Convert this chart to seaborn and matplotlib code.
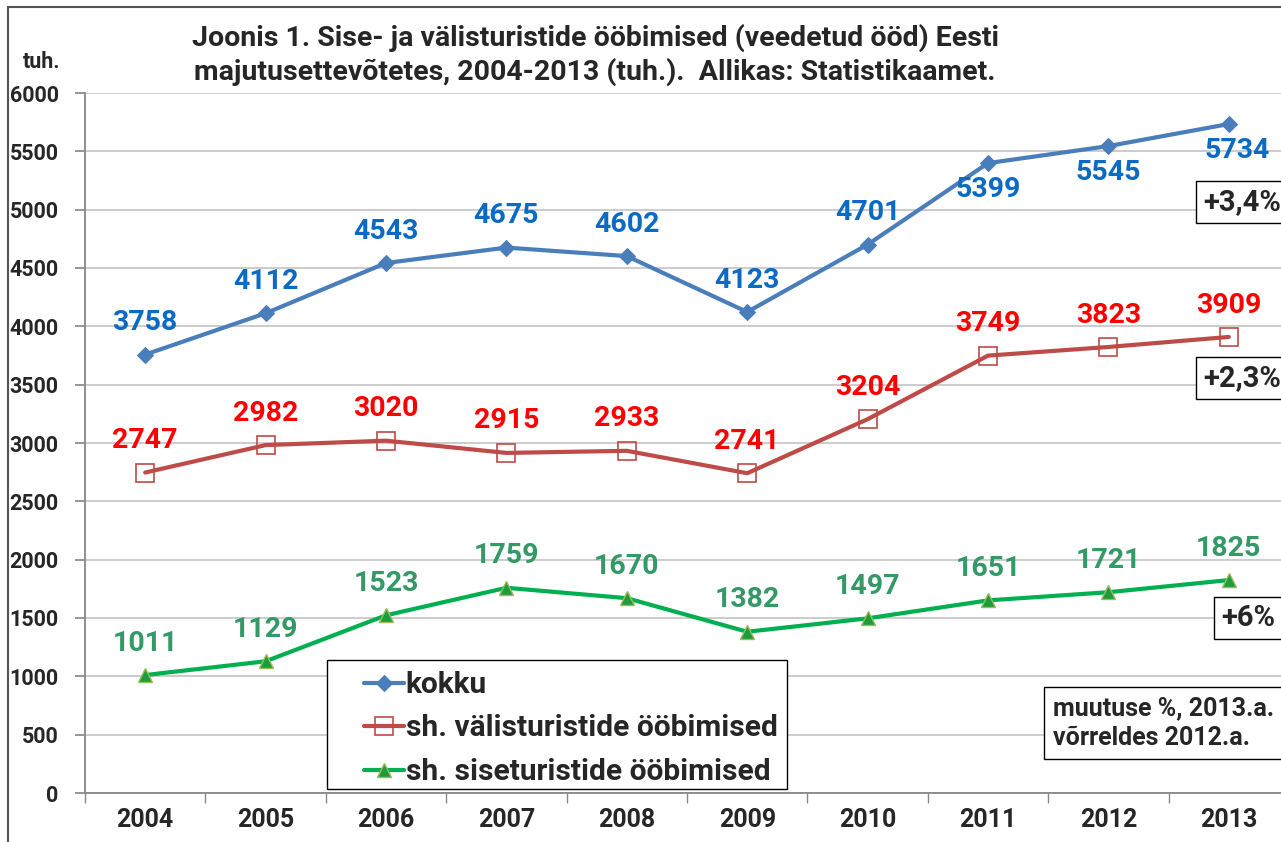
import matplotlib
matplotlib.use("Agg")
import matplotlib.pyplot as plt
import seaborn as sns
import pandas as pd
from matplotlib.patches import Rectangle

years = ["2004", "2005", "2006", "2007", "2008", "2009", "2010", "2011", "2012", "2013"]
kokku = [3758, 4112, 4543, 4675, 4602, 4123, 4701, 5399, 5545, 5734]
valis = [2747, 2982, 3020, 2915, 2933, 2741, 3204, 3749, 3823, 3909]
sise = [1011, 1129, 1523, 1759, 1670, 1382, 1497, 1651, 1721, 1825]
series_names = ["kokku", "sh. välisturistide ööbimised", "sh. siseturistide ööbimised"]
changes = ["+3,4%", "+2,3%", "+6%"]
yticks = list(range(0, 6001, 500))

sns.set_theme(style="white")
plt.rcParams['font.family'] = ['Roboto', 'DejaVu Sans']
plt.rcParams['font.weight'] = 'bold'

fig = plt.figure(figsize=(12.81, 8.42), dpi=100)
W, H = 1281, 842
ax = fig.add_axes([85 / W, 1 - 793 / H, (1289 - 85) / W, (793 - 93) / H])
AW, AH = 1289 - 85, 793 - 93

x = list(range(len(years)))
df = pd.DataFrame({"x": x, "kokku": kokku, "valis": valis, "sise": sise})

line_specs = [
    ("kokku", "#4A7EBB", dict(marker="D", markersize=8, markerfacecolor="#4A7EBB", markeredgecolor="#4A7EBB")),
    ("valis", "#BE4B48", dict(marker="s", markersize=13, markerfacecolor="none", markeredgecolor="#BE4B48", markeredgewidth=1.2)),
    ("sise", "#00B050", dict(marker="^", markersize=10, markerfacecolor="#1E9B3C", markeredgecolor="#9BBB59", markeredgewidth=1.0)),
]
for (col, color, mk), name in zip(line_specs, series_names):
    sns.lineplot(data=df, x="x", y=col, ax=ax, color=color, linewidth=3, label=name, **mk)

label_colors = ["#0B6BC4", "#FF0000", "#339966"]
for vals, lc, key in zip([kokku, valis, sise], label_colors, ["kokku", "valis", "sise"]):
    for i, v in enumerate(vals):
        dy = 23
        dx = 0
        if key == "kokku" and i >= 7:
            dy = -19
            if i == 9:
                dx = 6
        ax.annotate(str(v), (i, v), textcoords="offset points", xytext=(dx, dy),
                    ha="center", va="center", color=lc, fontsize=20.5, fontweight="bold")

ax.set_xlim(-0.5, 9.5)
ax.set_ylim(0, 6000)
ax.set_yticks(yticks)
ax.set_yticklabels([str(t) for t in yticks], fontsize=15.5, fontweight="bold")
ax.set_xticks(x)
ax.set_xticklabels(years, fontsize=18, fontweight="bold")
ax.set_xticks([i - 0.5 for i in range(len(years) + 1)], minor=True)
ax.tick_params(axis="x", which="major", length=0, pad=11)
ax.tick_params(axis="x", which="minor", length=7, color="#888888", direction="out", bottom=True)
ax.tick_params(axis="y", which="major", length=7, color="#888888", direction="out", left=True, pad=12)
ax.grid(axis="y", color="#C8C8C8", linewidth=1.3)
ax.set_axisbelow(True)
for s in ["top", "right"]:
    ax.spines[s].set_visible(False)
for s in ["left", "bottom"]:
    ax.spines[s].set_color("#888888")
    ax.spines[s].set_linewidth(1.3)
ax.set_xlabel("")
ax.set_ylabel("")

# legend frame (drawn separately for the wide left margin)
ax.add_patch(Rectangle(((327 - 85) / AW, (793 - 789) / AH), (787 - 327) / AW, (789 - 660) / AH,
                       transform=ax.transAxes, facecolor="white", edgecolor="black",
                       linewidth=1.0, zorder=4, clip_on=False))
leg = ax.legend(loc="upper left", bbox_to_anchor=((355 - 85) / AW, (793 - 662) / AH),
                borderaxespad=0, frameon=False,
                handlelength=1.35, handletextpad=0.05, borderpad=0.3, labelspacing=0.52,
                prop={"weight": "bold", "size": 21.5})
leg.set_zorder(5)

fig.text(595 / W, 1 - 38 / H, "Joonis 1. Sise- ja välisturistide ööbimised (veedetud ööd) Eesti",
         ha="center", va="center", fontsize=20.5, fontweight="bold")
fig.text(595 / W, 1 - 72 / H, "majutusettevõtetes, 2004-2013 (tuh.).  Allikas: Statistikaamet.",
         ha="center", va="center", fontsize=20.5, fontweight="bold")
fig.text(42 / W, 1 - 62 / H, "tuh.", ha="center", va="center", fontsize=15.5, fontweight="bold")

box = dict(boxstyle="square,pad=0.25", facecolor="white", edgecolor="black", linewidth=1.0)
fig.text(1203 / W, 1 - 202 / H, changes[0], ha="left", va="center", fontsize=21, fontweight="bold", bbox=box)
fig.text(1203 / W, 1 - 378 / H, changes[1], ha="left", va="center", fontsize=21, fontweight="bold", bbox=box)
fig.text(1221 / W, 1 - 618 / H, changes[2], ha="left", va="center", fontsize=21, fontweight="bold", bbox=box)
box2 = dict(boxstyle="square,pad=0.35", facecolor="white", edgecolor="black", linewidth=1.0)
fig.text(1053 / W, 1 - 723 / H, "muutuse %, 2013.a.\nvõrreldes 2012.a.", ha="left", va="center",
         fontsize=18, fontweight="bold", linespacing=1.3, bbox=box2)

fig.patches.append(Rectangle((8 / W, -0.1), 1.2, (1 - 7 / H) + 0.1, transform=fig.transFigure,
                             fill=False, edgecolor="#555555", linewidth=1.5))

fig.savefig("out.png", dpi=100)
